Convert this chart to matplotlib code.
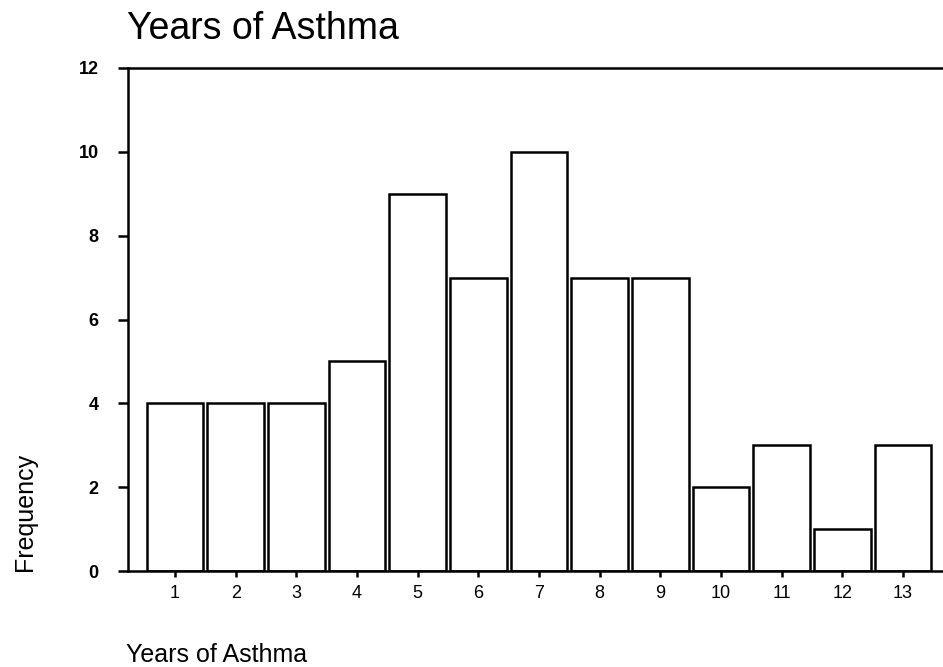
import matplotlib.pyplot as plt

plt.rcParams['font.family'] = ['Liberation Sans', 'DejaVu Sans']

years = [1, 2, 3, 4, 5, 6, 7, 8, 9, 10, 11, 12, 13]
frequency = [4, 4, 4, 5, 9, 7, 10, 7, 7, 2, 3, 1, 3]
y_ticks = [0, 2, 4, 6, 8, 10, 12]


def main():
    fig = plt.figure(figsize=(9.43, 6.67), dpi=100)
    ax = fig.add_axes([128 / 943, 1 - 571 / 667, 1 - 128 / 943 + 0.02, (571 - 68) / 667])

    ax.bar(years, frequency, width=0.93, color='white', edgecolor='black', linewidth=1.8)

    ax.set_xlim(0.225, 13.66 + 0.02 * 943 / 60.67)
    ax.set_ylim(0, 12)
    ax.set_xticks(years)
    ax.set_xticklabels([str(y) for y in years], fontsize=13)
    ax.set_yticks(y_ticks)
    ax.set_yticklabels([str(t) for t in y_ticks], fontsize=13, fontweight='bold')

    ax.spines['right'].set_visible(False)
    for side in ['left', 'bottom', 'top']:
        ax.spines[side].set_linewidth(1.8)
    ax.tick_params(axis='y', length=7, width=1.8, pad=14)
    ax.tick_params(axis='x', length=4, width=1.8, pad=6)

    fig.text(127 / 943, 1 - 29 / 667, "Years of Asthma", fontsize=27, va='center', ha='left')
    fig.text(25 / 943, 1 - 512 / 667, "Frequency", fontsize=18, rotation=90, va='center', ha='center')
    fig.text(126 / 943, 1 - 655 / 667, "Years of Asthma", fontsize=18, va='center', ha='left')

    fig.savefig("out.png", dpi=100)


if __name__ == "__main__":
    main()
